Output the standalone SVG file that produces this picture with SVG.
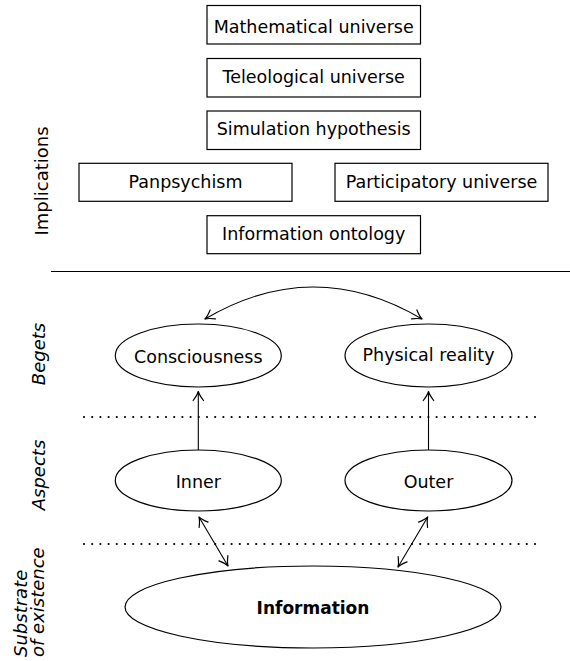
<svg xmlns="http://www.w3.org/2000/svg" width="570" height="661" viewBox="0 0 570 661">
<style>
  .box { fill: #fff; stroke: #000; stroke-width: 1.2; }
  .ell { fill: #fff; stroke: #000; stroke-width: 1.2; }
  .t { font-family: "DejaVu Sans", "Liberation Sans", sans-serif; font-size: 17.5px; fill: #000; text-anchor: middle; }
  .b { font-weight: bold; font-size: 17px; }
  .lab { font-family: "DejaVu Sans", "Liberation Sans", sans-serif; font-size: 18px; fill: #000; }
  .it { font-style: italic; }
  .conn { fill: none; stroke: #000; stroke-width: 1.1; }
  .sep { fill: none; stroke: #000; stroke-width: 1.1; }
  .dot { fill: none; stroke: #000; stroke-width: 2.2; stroke-linecap: round; stroke-dasharray: 0 8.2; }
</style>
<defs>
  <marker id="ah" markerUnits="userSpaceOnUse" viewBox="-11 -7 13 14" refX="0" refY="0" markerWidth="13" markerHeight="14" orient="auto-start-reverse" overflow="visible">
    <path d="M -9 -5.2 Q -3.5 -1 0 0 Q -3.5 1 -9 5.2" fill="none" stroke="#000" stroke-width="1.2" stroke-linecap="round" stroke-linejoin="round"/>
  </marker>
</defs>

<g id="labels">
  <text class="lab" transform="translate(48,181) rotate(-90)" text-anchor="middle">Implications</text>
  <text class="lab it" transform="translate(45,354) rotate(-90)" text-anchor="middle">Begets</text>
  <text class="lab it" transform="translate(45,475) rotate(-90)" text-anchor="middle">Aspects</text>
  <text class="lab it" transform="translate(27,657) rotate(-90)" text-anchor="start">Substrate</text>
  <text class="lab it" transform="translate(44,657) rotate(-90)" text-anchor="start">of existence</text>
</g>

<g id="separators">
  <line class="sep" x1="51" y1="271.5" x2="570" y2="271.5"/>
  <line class="dot" x1="84" y1="417" x2="541" y2="417"/>
  <line class="dot" x1="84" y1="544" x2="541" y2="544"/>
</g>

<g id="mathematical-universe">
  <rect class="box" x="207" y="5.5" width="213.5" height="38.5"/>
  <text class="t" x="313.7" y="33.3">Mathematical universe</text>
</g>
<g id="teleological-universe">
  <rect class="box" x="207" y="58.5" width="213.5" height="38.5"/>
  <text class="t" x="313.7" y="82.5">Teleological universe</text>
</g>
<g id="simulation-hypothesis">
  <rect class="box" x="207" y="111" width="213.5" height="38.5"/>
  <text class="t" x="313.7" y="135.3">Simulation hypothesis</text>
</g>
<g id="panpsychism">
  <rect class="box" x="79" y="163.3" width="213" height="38"/>
  <text class="t" x="185.5" y="187.7">Panpsychism</text>
</g>
<g id="participatory-universe">
  <rect class="box" x="335" y="163.3" width="213" height="38"/>
  <text class="t" x="441.5" y="187.7">Participatory universe</text>
</g>
<g id="information-ontology">
  <rect class="box" x="207" y="215.7" width="213.5" height="38"/>
  <text class="t" x="313.7" y="240">Information ontology</text>
</g>

<g id="consciousness">
  <ellipse class="ell" cx="198.3" cy="355.5" rx="83" ry="31.5"/>
  <text class="t" x="198.3" y="362.5">Consciousness</text>
</g>
<g id="physical-reality">
  <ellipse class="ell" cx="428.5" cy="355.5" rx="83.5" ry="31.5"/>
  <text class="t" x="428.5" y="360.5">Physical reality</text>
</g>
<g id="inner">
  <ellipse class="ell" cx="198.3" cy="480.5" rx="83" ry="30.5"/>
  <text class="t" x="198.3" y="488">Inner</text>
</g>
<g id="outer">
  <ellipse class="ell" cx="428.5" cy="480.5" rx="83.5" ry="30.5"/>
  <text class="t" x="428.5" y="488">Outer</text>
</g>
<g id="information">
  <ellipse class="ell" cx="313" cy="607" rx="188" ry="41"/>
  <text class="t b" x="313" y="613.5">Information</text>
</g>

<g id="connectors">
  <path class="conn" d="M 205 319 Q 313.5 255 422 319" marker-start="url(#ah)" marker-end="url(#ah)"/>
  <path class="conn" d="M 198.3 450 L 198.3 391.5" marker-end="url(#ah)"/>
  <path class="conn" d="M 428.5 450 L 428.5 391.5" marker-end="url(#ah)"/>
  <path class="conn" d="M 199 517 L 228 566" marker-start="url(#ah)" marker-end="url(#ah)"/>
  <path class="conn" d="M 427.7 517 L 398 567" marker-start="url(#ah)" marker-end="url(#ah)"/>
</g>
</svg>
